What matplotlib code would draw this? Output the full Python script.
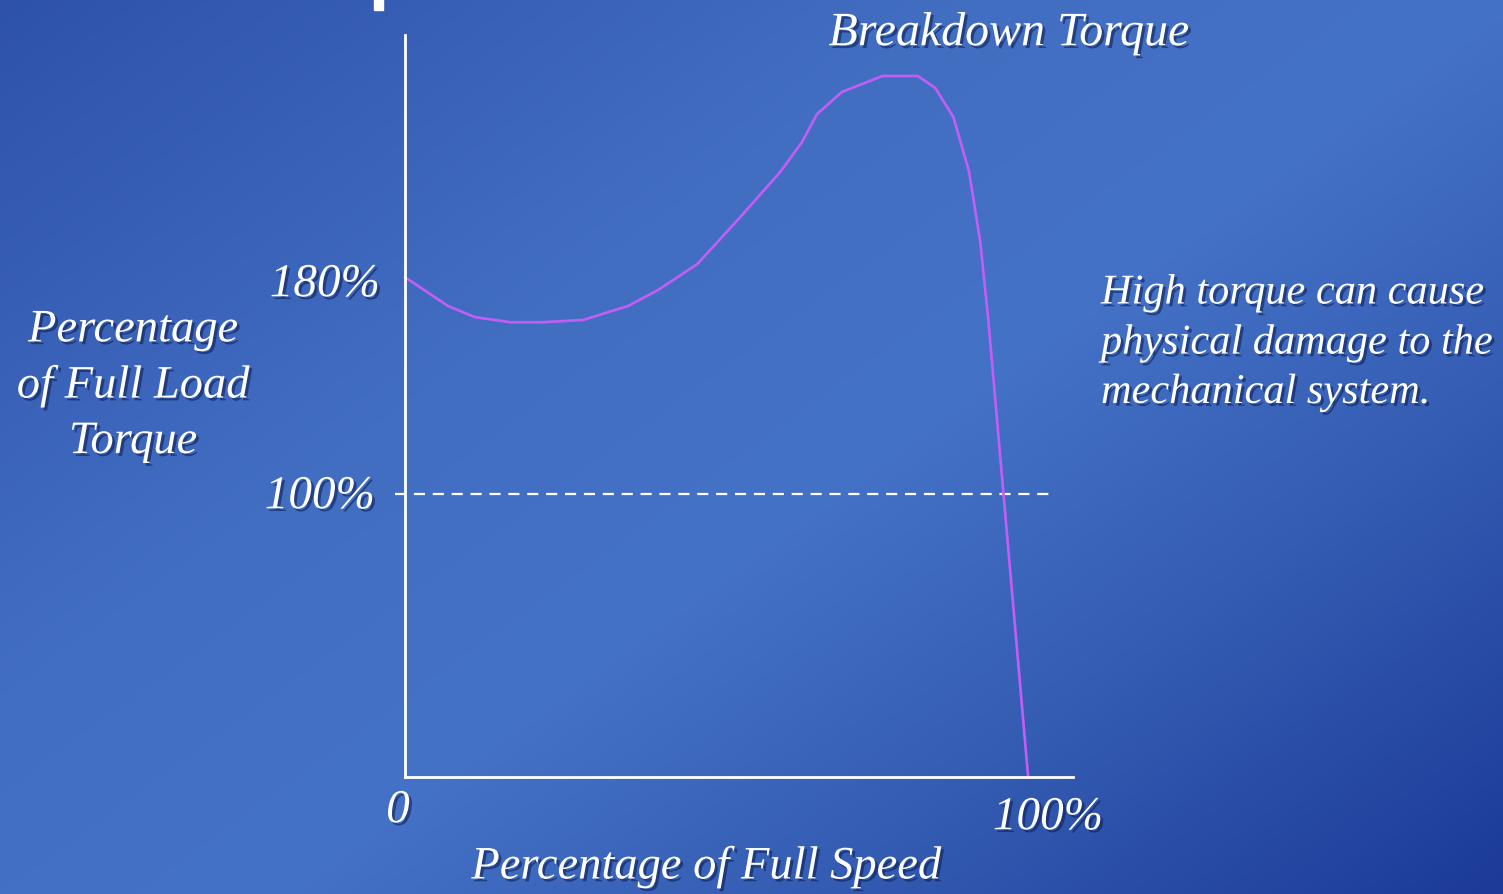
import numpy as np
import matplotlib
matplotlib.use("Agg")
import matplotlib.pyplot as plt
import matplotlib.patheffects as pe

# torque-speed curve (percent of full speed / full load torque)
speed_pct = [0, 6.9, 11.2, 16.9, 22.2, 28.6, 35.8, 40.6, 46.9, 53.8, 60.2,
             63.7, 66.1, 70.1, 76.6, 82.3, 85.1, 88.0, 90.5, 92.3, 93.6, 100]
torque_pct = [175.4, 165.3, 161.4, 159.6, 159.6, 160.4, 165.3, 170.9, 180.0,
              196.5, 212.3, 222.8, 232.6, 240.4, 246.0, 246.0, 241.8, 231.6,
              212.6, 188.1, 160.7, 0]
full_load = 99.3
y_labels = ["180%", "100%"]
x_labels = ["0", "100%"]

W, H = 1503, 895
fig = plt.figure(figsize=(W / 100, H / 100), dpi=100)

# background gradient
bg = fig.add_axes([0, 0, 1, 1], zorder=-5)
yy, xx = np.mgrid[0:1:200j, 0:1:340j]
t = (xx * 0.55 + yy * 0.45)
stops = [0.0, 0.35, 0.55, 0.75, 1.0]
cols = np.array([[46, 82, 170], [66, 110, 194], [68, 114, 198],
                 [52, 92, 178], [28, 58, 152]]) / 255
img = np.dstack([np.interp(t, stops, cols[:, k]) for k in range(3)])
bg.imshow(img, aspect="auto", extent=[0, 1, 0, 1], origin="upper")
bg.set_axis_off()

# stray bit of the slide title at the top edge
fig.patches.append(plt.Rectangle((374 / W, 1 - 11 / H), 9 / W, 11 / H,
                                 transform=fig.transFigure, color="white"))

ax = fig.add_axes([405 / W, (H - 778) / H, (1073 - 405) / W, (778 - 36) / H])
ax.set_xlim(0, 107.2)
ax.set_ylim(0, 260.4)
ax.patch.set_alpha(0)
for s in ("top", "right"):
    ax.spines[s].set_visible(False)
for s in ("left", "bottom"):
    ax.spines[s].set_color("white")
    ax.spines[s].set_linewidth(2)
ax.set_xticks([])
ax.set_yticks([])

ax.plot([-1.6, 103.5], [full_load, full_load], color="white", lw=1.6,
        dashes=(5, 3.5), clip_on=False)
ax.plot(speed_pct, torque_pct, color="#C25EF6", lw=1.9, clip_on=False,
        solid_joinstyle="miter")

shadow = [pe.withSimplePatchShadow(offset=(2, -2), shadow_rgbFace="#0a1a50",
                                   alpha=0.55)]
font = dict(family="Liberation Serif", style="italic", color="white",
            path_effects=shadow)


def label(x, y, s, size, ha="center", va="center", **kw):
    fig.text(x / W, 1 - y / H, s, fontsize=size, ha=ha, va=va, **font, **kw)


label(1009, 34, "Breakdown Torque", 34.5)
label(380, 286, y_labels[0], 34, ha="right")
label(375, 498, y_labels[1], 34, ha="right")
label(398, 812, x_labels[0], 34)
label(1048, 819, x_labels[1], 34)
label(133, 387, "Percentage\nof Full Load\nTorque", 33.5, linespacing=1.4)
label(706, 868, "Percentage of Full Speed", 33.5)
label(1101, 344, "High torque can cause\nphysical damage to the\nmechanical system.",
      30.5, ha="left", linespacing=1.37)

fig.savefig("out.png", dpi=100)
